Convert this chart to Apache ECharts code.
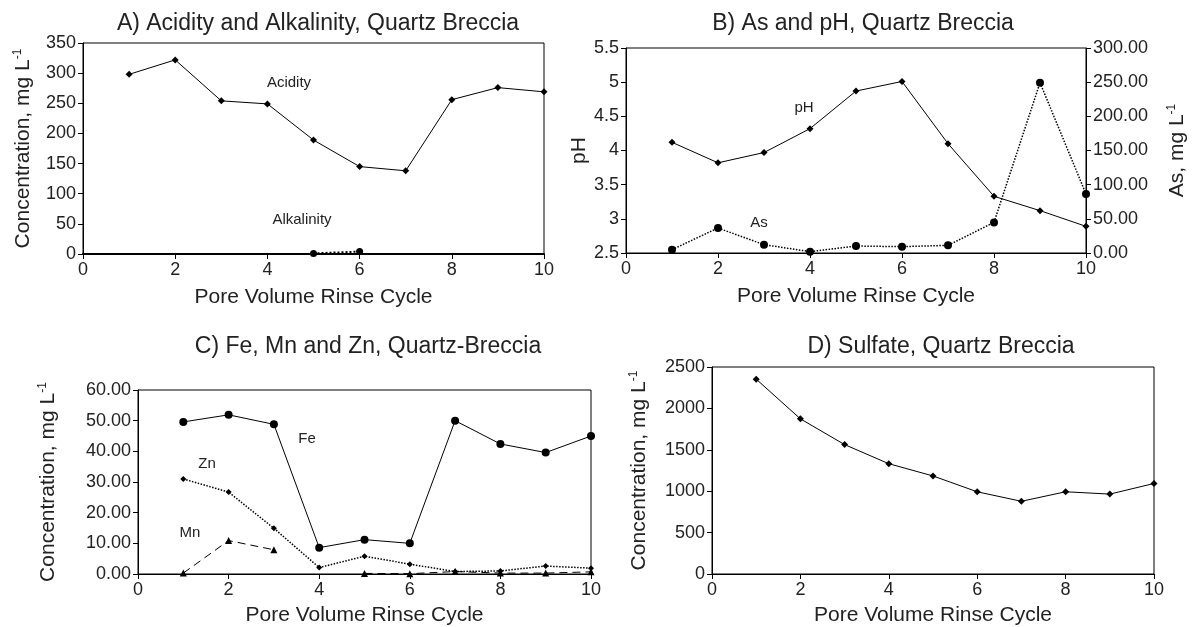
<!DOCTYPE html>
<html><head><meta charset="utf-8">
<script src="https://cdn.jsdelivr.net/npm/echarts@6/dist/echarts.min.js"></script>
<style>html,body{margin:0;padding:0;background:#fff}#c{width:1193px;height:627px}</style>
</head><body><div id="c"></div>
<script>
const cycles = [1,2,3,4,5,6,7,8,9,10];
const acidity = [298,322,254,249,189,145,138,256,276,269];
const alkalinity = [null,null,null,null,1,4,null,null,null,null];
const pH = [4.12,3.82,3.97,4.32,4.87,5.01,4.10,3.33,3.12,2.89];
const arsenic = [4.9,36.6,12.2,2.0,10.2,9.3,11.2,44.8,249.3,86.3];
const fe = [49.6,51.9,48.8,8.6,11.2,10.0,50.0,42.4,39.6,45.0];
const zn = [31.0,26.7,14.9,2.1,5.8,3.2,0.8,1.0,2.6,1.9];
const mn = [0.3,10.9,7.9,null,0.2,0.1,0.8,0.3,0.3,0.7];
const sulfate = [2353,1874,1563,1332,1184,993,878,993,965,1093];
const xTicks = {min:0,max:10,interval:2};

const F = 'Liberation Sans, Arial, sans-serif';
const pair = (ys) => cycles.map((x,i)=>[x, ys[i]]);
const supRich = {sup:{fontSize:12,fontFamily:F,color:'#222',verticalAlign:'top',padding:[0,0,10,0]}};

function xAxis(g){
  return {type:'value', gridIndex:g, min:xTicks.min, max:xTicks.max, interval:xTicks.interval,
    name:'Pore Volume Rinse Cycle', nameLocation:'middle', nameGap:g>=2?31:33,
    nameTextStyle:{fontFamily:F,fontSize:21,color:'#222'},
    axisLine:{lineStyle:{color:'#000',width:g===0?2:1}}, axisTick:{show:true,length:5,lineStyle:{color:'#000'}},
    axisLabel:{fontFamily:F,fontSize:18,color:'#222',margin:7}, splitLine:{show:false}};
}
function yAxis(g,min,max,interval,fmt,opts){
  return Object.assign({type:'value', gridIndex:g, min, max, interval,
    axisLine:{show:true,lineStyle:{color:'#000'}}, axisTick:{show:true,length:5,lineStyle:{color:'#000'}},
    axisLabel:{fontFamily:F,fontSize:18,color:'#222',margin:7,formatter:fmt}, splitLine:{show:false},
    nameLocation:'middle', nameTextStyle:{fontFamily:F,fontSize:21,color:'#222',rich:supRich}}, opts||{});
}
const fix2 = v => v.toFixed(2);
const plain = v => String(v);

function line(name,data,xi,yi,symbol,size,type,width){
  return {name,type:'line',xAxisIndex:xi,yAxisIndex:yi,data:pair(data),symbol,symbolSize:size,
    showSymbol:true,connectNulls:false,animation:false,
    itemStyle:{color:'#000'},lineStyle:{color:'#000',width:width||1,type:type||'solid'}};
}

const chart = echarts.init(document.getElementById('c'),null,{renderer:'canvas'});
const titleStyle = {fontFamily:F,fontSize:23,fontWeight:'normal',color:'#222'};
const ann = (x,y,t)=>({type:'text',x:x,y:y,style:{text:t,font:'15px '+F,fill:'#222',textAlign:'center',textVerticalAlign:'middle'}});
chart.setOption({
  animation:false,
  backgroundColor:'#fff',
  title:[
    {text:'A) Acidity and Alkalinity, Quartz Breccia',left:313,top:7,textAlign:'center',textStyle:titleStyle},
    {text:'B) As and pH, Quartz Breccia',left:858,top:7,textAlign:'center',textStyle:titleStyle},
    {text:'C) Fe, Mn and Zn, Quartz-Breccia',left:363,top:330,textAlign:'center',textStyle:titleStyle},
    {text:'D) Sulfate, Quartz Breccia',left:936,top:330,textAlign:'center',textStyle:titleStyle}
  ],
  grid:[
    {left:83,top:43,width:461,height:211,show:true,borderColor:'#000',borderWidth:1,backgroundColor:'transparent'},
    {left:626,top:48,width:460,height:205,show:true,borderColor:'#000',borderWidth:1,backgroundColor:'transparent'},
    {left:138,top:390,width:453,height:185,show:true,borderColor:'#000',borderWidth:1,backgroundColor:'transparent'},
    {left:712,top:367,width:442,height:209,show:true,borderColor:'#000',borderWidth:1,backgroundColor:'transparent'}
  ],
  xAxis:[xAxis(0),xAxis(1),xAxis(2),xAxis(3)],
  yAxis:[
    yAxis(0,0,350,50,plain,{name:'Concentration, mg L{sup|-1}',nameGap:49}),
    yAxis(1,2.5,5.5,0.5,plain,{name:'pH',nameGap:28}),
    yAxis(1,0,300,50,fix2,{position:'right',name:'As, mg L{sup|-1}',nameGap:80,nameRotate:90}),
    yAxis(2,0,60,10,fix2,{name:'Concentration, mg L{sup|-1}',nameGap:79}),
    yAxis(3,0,2500,500,plain,{name:'Concentration, mg L{sup|-1}',nameGap:62})
  ],
  series:[
    line('Acidity',acidity,0,0,'diamond',7),
    line('Alkalinity',alkalinity,0,0,'circle',7,'dotted',2),
    line('pH',pH,1,1,'diamond',7),
    line('As',arsenic,1,2,'circle',8,'dotted',1.5),
    line('Fe',fe,2,3,'circle',8),
    line('Zn',zn,2,3,'diamond',6,'dotted',1.5),
    line('Mn',mn,2,3,'triangle',7,[8,5],1),
    line('Sulfate',sulfate,3,4,'diamond',7)
  ],
  graphic:[
    ann(289,83,'Acidity'), ann(302,220,'Alkalinity'),
    ann(804,108,'pH'), ann(759,223,'As'),
    ann(307,439,'Fe'), ann(207,464,'Zn'), ann(190,533,'Mn')
  ]
});
</script></body></html>
